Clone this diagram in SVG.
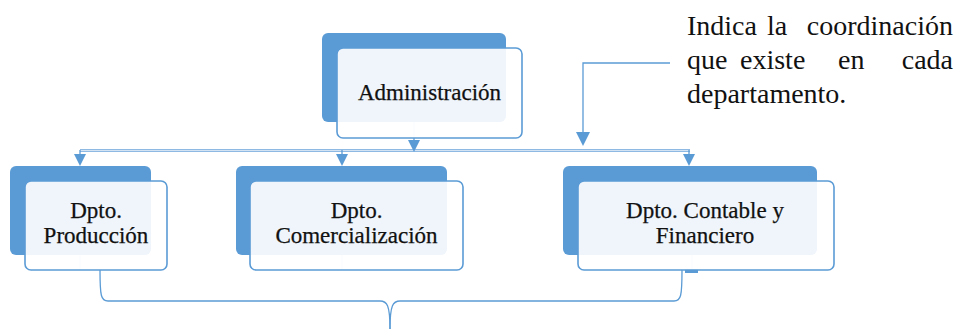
<svg xmlns="http://www.w3.org/2000/svg" width="958" height="329" viewBox="0 0 958 329">
<style>
.back{fill:#5b9bd5}
.front{fill:#ffffff;fill-opacity:0.9;stroke:#5b9bd5;stroke-width:1.6}
.lbl{font-size:23px;fill:#111111;text-anchor:middle;stroke:#111111;stroke-width:0.25}
.note{font-size:28px;fill:#111111}
.faint{stroke:#c9dcf0;stroke-width:1.2}
.ln{stroke:#5b9bd5;stroke-width:1.3;fill:none}
.ah{fill:#5b9bd5}
</style>
<rect width="958" height="329" fill="#fff"/>
<g id="connectors">
  <line class="faint" x1="414" y1="122" x2="414" y2="138"/>
  <line class="faint" x1="80" y1="255" x2="80" y2="270"/>
  <line class="faint" x1="342" y1="255" x2="342" y2="270"/>
  <line class="faint" x1="692" y1="255" x2="692" y2="270"/>
  <line x1="414" y1="138" x2="414" y2="142" class="ln"/>
  <line x1="80" y1="150.5" x2="690" y2="150.5" stroke="#8db9e3" stroke-width="3"/>
  <line x1="80" y1="150.5" x2="690" y2="150.5" stroke="#e4eef8" stroke-width="0.8"/>
  <polygon class="ah" points="408,140 420,140 414,152"/>
  <line x1="80" y1="150" x2="80" y2="156" class="ln"/>
  <polygon class="ah" points="74,154 86,154 80,166"/>
  <line x1="342" y1="150" x2="342" y2="156" class="ln"/>
  <polygon class="ah" points="336,154 348,154 342,166"/>
  <line x1="689" y1="150" x2="689" y2="156" class="ln"/>
  <polygon class="ah" points="683,154 695,154 689,166"/>
  <path class="ln" d="M670,63 L583,63 L583,134"/>
  <polygon class="ah" points="576,132 590,132 583,146"/>
  <rect x="685" y="269" width="13" height="4" fill="#5b9bd5"/>
  <path class="ln" d="M100,270 C100,296 101,301 108,301 L380,301 C387,301 390,305 390,329"/>
  <path class="ln" d="M682,270 C682,296 681,301 674,301 L400,301 C393,301 390,305 390,329"/>
</g>
<g id="admin" font-family="'Liberation Serif', 'Times New Roman', serif">
  <rect class="back" x="322" y="33" width="184" height="89" rx="6"/>
  <rect class="front" x="337" y="48" width="185" height="90" rx="6"/>
  <text class="lbl" font-family="'Liberation Serif', 'Times New Roman', serif" x="429.5" y="100">Administración</text>
</g>
<g id="produccion" font-family="'Liberation Serif', 'Times New Roman', serif">
  <rect class="back" x="10" y="166" width="141" height="89" rx="6"/>
  <rect class="front" x="25" y="181" width="142" height="89" rx="6"/>
  <text class="lbl" font-family="'Liberation Serif', 'Times New Roman', serif" x="96" y="218">Dpto.</text>
  <text class="lbl" font-family="'Liberation Serif', 'Times New Roman', serif" x="96" y="243">Producción</text>
</g>
<g id="comercializacion" font-family="'Liberation Serif', 'Times New Roman', serif">
  <rect class="back" x="236" y="166" width="211" height="89" rx="6"/>
  <rect class="front" x="250" y="181" width="213" height="89" rx="6"/>
  <text class="lbl" font-family="'Liberation Serif', 'Times New Roman', serif" x="356.5" y="218">Dpto.</text>
  <text class="lbl" font-family="'Liberation Serif', 'Times New Roman', serif" x="356.5" y="243">Comercialización</text>
</g>
<g id="contable" font-family="'Liberation Serif', 'Times New Roman', serif">
  <rect class="back" x="563" y="166" width="254" height="89" rx="6"/>
  <rect class="front" x="578" y="181" width="256" height="89" rx="6"/>
  <text class="lbl" font-family="'Liberation Serif', 'Times New Roman', serif" x="705" y="218">Dpto. Contable y</text>
  <text class="lbl" font-family="'Liberation Serif', 'Times New Roman', serif" x="705" y="243">Financiero</text>
</g>
<g id="note" font-family="'Liberation Serif', 'Times New Roman', serif">
  <text class="note" font-family="'Liberation Serif', 'Times New Roman', serif" y="35"><tspan x="687">Indica</tspan><tspan x="767">la</tspan><tspan x="953" text-anchor="end">coordinación</tspan></text>
  <text class="note" font-family="'Liberation Serif', 'Times New Roman', serif" y="69"><tspan x="687">que</tspan><tspan x="740">existe</tspan><tspan x="838">en</tspan><tspan x="953" text-anchor="end">cada</tspan></text>
  <text class="note" font-family="'Liberation Serif', 'Times New Roman', serif" y="103"><tspan x="687">departamento.</tspan></text>
</g>
</svg>
